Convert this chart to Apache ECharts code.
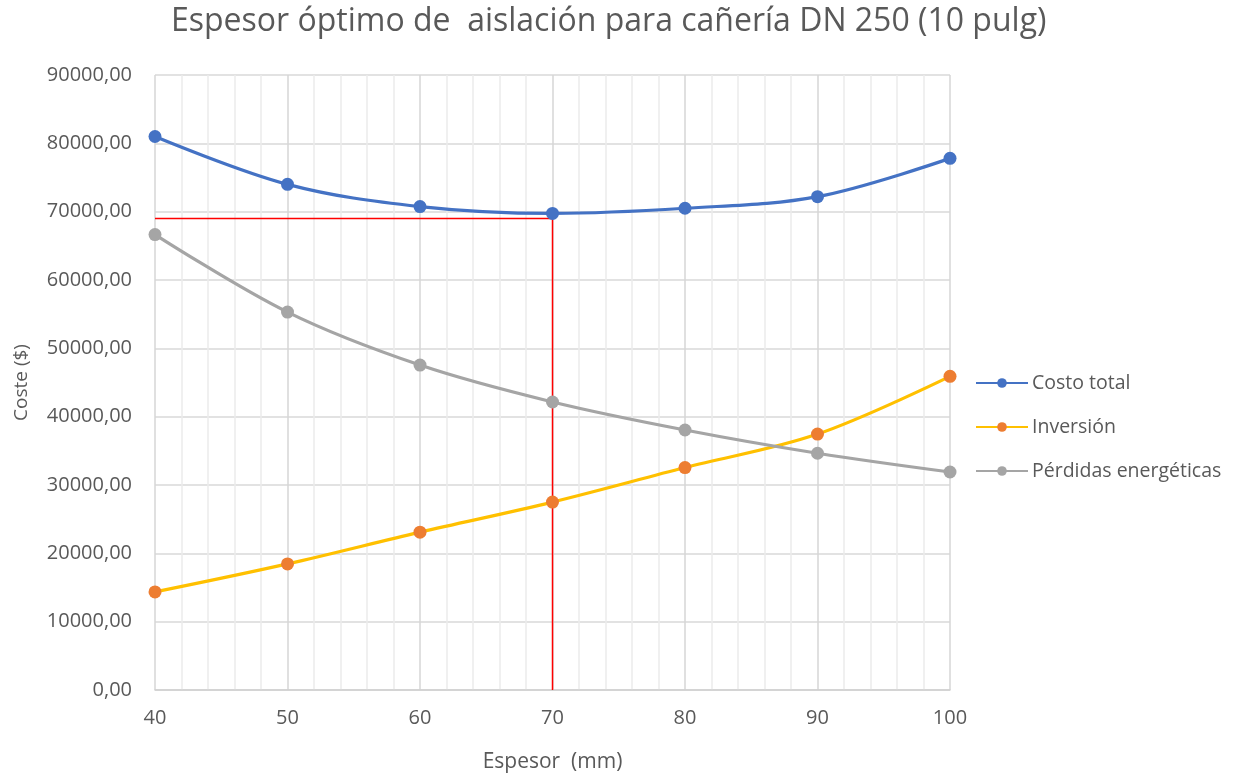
<!DOCTYPE html>
<html><head><meta charset="utf-8">
<script src="https://cdn.jsdelivr.net/npm/echarts@6/dist/echarts.min.js"></script>
<style>html,body{margin:0;padding:0;background:#fff}#c{width:1244px;height:778px}</style>
</head><body><div id="c"></div>
<script>
const espesor = [40, 50, 60, 70, 80, 90, 100];
const costoTotal = [81000, 74000, 70750, 69750, 70500, 72200, 77800];
const inversion = [14350, 18450, 23100, 27500, 32550, 37450, 45900];
const perdidas = [66650, 55300, 47550, 42150, 38050, 34650, 31900];
const optimo = { x: 70, y: 69000 };
const yTicks = { min: 0, max: 90000, interval: 10000 };

const font = '"Open Sans", "Noto Sans", sans-serif';
const txt = '#595959';
const pair = (ys) => espesor.map((x, i) => [x, ys[i]]);

const chart = echarts.init(document.getElementById('c'));
chart.setOption({
  animation: false,
  textStyle: { fontFamily: font },
  title: {
    text: 'Espesor óptimo de  aislación para cañería DN 250 (10 pulg)',
    left: 166, top: 1,
    textStyle: { fontFamily: font, fontSize: 32, fontWeight: 'normal', color: txt }
  },
  grid: { left: 155, right: 294, top: 75, bottom: 88, containLabel: false },
  legend: {
    orient: 'vertical', left: 970, top: 368, itemGap: 24, itemWidth: 52, itemHeight: 12,
    textStyle: { fontFamily: font, fontSize: 19.5, color: txt, padding: [0, 0, 0, -1] },
    data: ['Costo total', 'Inversión', 'Pérdidas energéticas']
  },
  xAxis: {
    type: 'value', min: 40, max: 100, interval: 10,
    name: 'Espesor  (mm)', nameLocation: 'middle', nameGap: 62,
    nameTextStyle: { fontFamily: font, fontSize: 21, color: txt },
    axisLine: { show: true, lineStyle: { color: '#d0d0d0', width: 1.5 } },
    axisTick: { show: false },
    axisLabel: { fontFamily: font, fontSize: 20, color: txt, margin: 18 },
    splitLine: { show: true, lineStyle: { color: '#d6d6d6', width: 1.5 } },
    minorTick: { show: false, splitNumber: 5 },
    minorSplitLine: { show: true, lineStyle: { color: '#ececec', width: 1.5 } }
  },
  yAxis: {
    type: 'value', min: yTicks.min, max: yTicks.max, interval: yTicks.interval,
    name: 'Coste ($)', nameLocation: 'middle', nameGap: 124, nameRotate: 90,
    nameTextStyle: { fontFamily: font, fontSize: 19, color: txt },
    axisLine: { show: false }, axisTick: { show: false },
    axisLabel: { fontFamily: font, fontSize: 20, color: txt, margin: 23,
      formatter: v => v.toFixed(2).replace('.', ',') },
    splitLine: { show: true, lineStyle: { color: '#d9d9d9', width: 1.5 } }
  },
  series: [
    {
      name: 'Óptimo', type: 'line', silent: true, symbol: 'none',
      data: [[espesor[0], optimo.y], [optimo.x, optimo.y], [optimo.x, 0]],
      lineStyle: { color: '#ff0000', width: 1.5 }, z: 1
    },
    {
      name: 'Costo total', type: 'line', data: pair(costoTotal), smooth: 0.35,
      symbol: 'circle', symbolSize: 13,
      lineStyle: { color: '#4472c4', width: 3.2 }, itemStyle: { color: '#4472c4' }, z: 3
    },
    {
      name: 'Inversión', type: 'line', data: pair(inversion), smooth: 0.35,
      symbol: 'circle', symbolSize: 13,
      lineStyle: { color: '#ffc000', width: 3.2 }, itemStyle: { color: '#ed7d31' }, z: 3
    },
    {
      name: 'Pérdidas energéticas', type: 'line', data: pair(perdidas), smooth: 0.35,
      symbol: 'circle', symbolSize: 13,
      lineStyle: { color: '#a5a5a5', width: 3.2 }, itemStyle: { color: '#a5a5a5' }, z: 3
    }
  ]
});
</script></body></html>
